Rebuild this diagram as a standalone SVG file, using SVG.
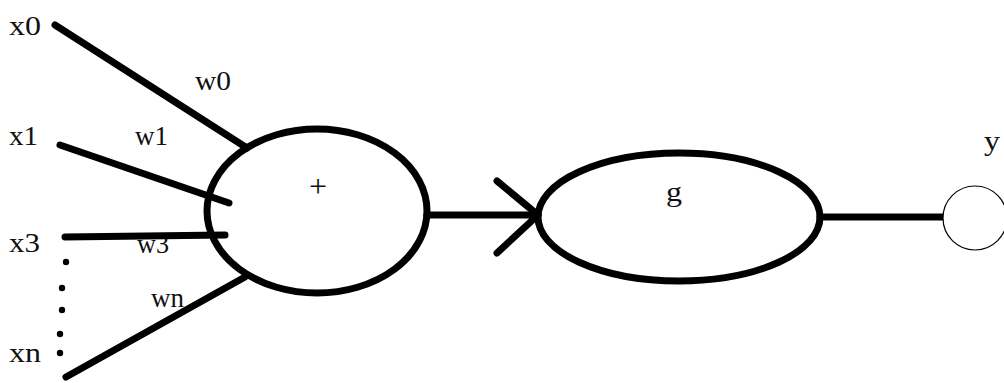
<svg xmlns="http://www.w3.org/2000/svg" width="1004" height="383" viewBox="0 0 1004 383">
<style>
text{font-family:"Liberation Serif","Times New Roman",serif;font-size:27px;fill:#111}
.e{fill:none;stroke:#000;stroke-width:7;stroke-linecap:round}
.dot{fill:#000}
</style>
<rect width="1004" height="383" fill="#fff"/>
<g id="labels">
<text x="9" y="35" textLength="32" lengthAdjust="spacingAndGlyphs">x0</text>
<text x="9" y="145" textLength="29" lengthAdjust="spacingAndGlyphs">x1</text>
<text x="9" y="252" textLength="31" lengthAdjust="spacingAndGlyphs">x3</text>
<text x="9" y="362" textLength="32" lengthAdjust="spacingAndGlyphs">xn</text>
<text x="195" y="90" textLength="36" lengthAdjust="spacingAndGlyphs">w0</text>
<text x="135" y="145" textLength="33" lengthAdjust="spacingAndGlyphs">w1</text>
<text x="137" y="253" textLength="32" lengthAdjust="spacingAndGlyphs">w3</text>
<text x="151" y="307" textLength="33" lengthAdjust="spacingAndGlyphs">wn</text>
<text x="984" y="150" textLength="16" lengthAdjust="spacingAndGlyphs">y</text>
</g>
<g id="dots">
<circle class="dot" cx="66" cy="262" r="3.2"/>
<circle class="dot" cx="62" cy="288" r="3.2"/>
<circle class="dot" cx="62" cy="310" r="3.2"/>
<circle class="dot" cx="60" cy="334" r="3.2"/>
<circle class="dot" cx="60" cy="353" r="3.2"/>
</g>
<g id="connectors">
<line class="e" x1="55" y1="25" x2="247" y2="148"/>
<line class="e" x1="60" y1="145" x2="229" y2="203"/>
<line class="e" x1="65" y1="237" x2="225" y2="235"/>
<line class="e" x1="66" y1="377" x2="245" y2="277"/>
<line class="e" x1="427" y1="215" x2="538" y2="215"/>
<polyline class="e" points="497,181 538,215 497,253" stroke-linejoin="round"/>
<line class="e" x1="820" y1="217" x2="944" y2="217"/>
</g>
<g id="sum">
<ellipse class="e" cx="317" cy="211" rx="110" ry="82"/>
<text x="309" y="197" style="font-size:32px">+</text>
</g>
<g id="g">
<ellipse class="e" cx="679" cy="217" rx="141" ry="64"/>
<text x="666" y="201" textLength="16" lengthAdjust="spacingAndGlyphs">g</text>
</g>
<g id="y">
<circle cx="975" cy="218" r="32" fill="#fff" stroke="#000" stroke-width="1.2"/>
</g>
</svg>
